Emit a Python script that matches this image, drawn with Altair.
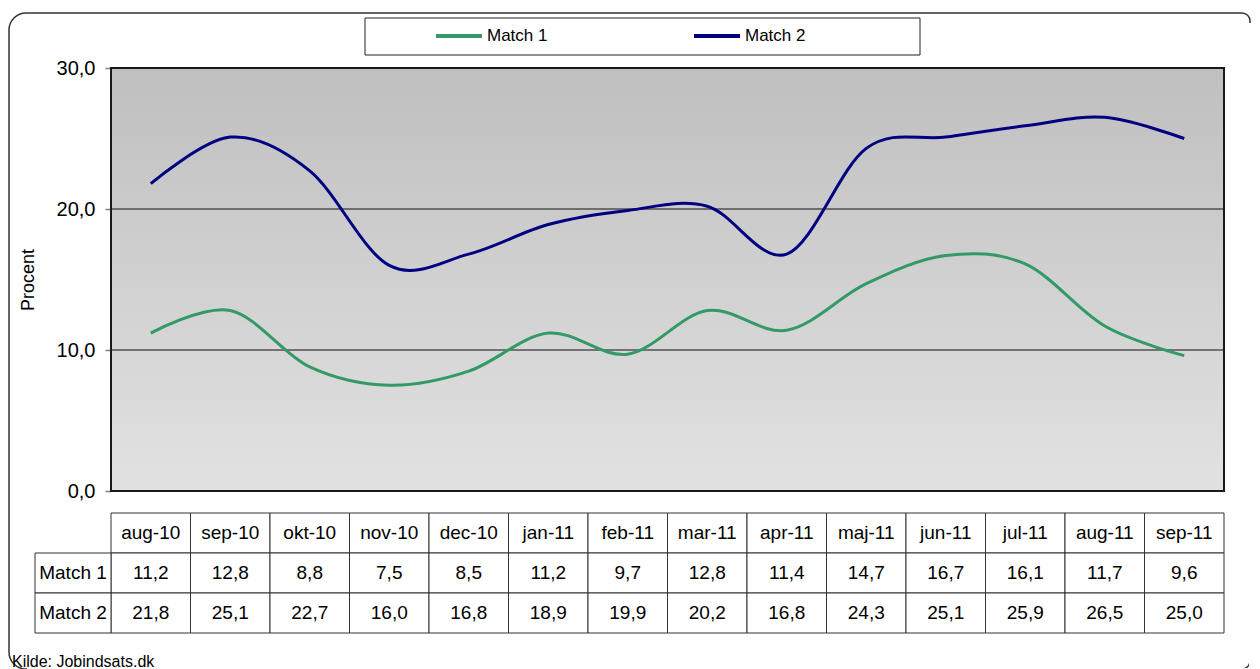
import altair as alt
import pandas as pd

# ---- data ----
months = ["aug-10", "sep-10", "okt-10", "nov-10", "dec-10", "jan-11", "feb-11",
          "mar-11", "apr-11", "maj-11", "jun-11", "jul-11", "aug-11", "sep-11"]
match1 = [11.2, 12.8, 8.8, 7.5, 8.5, 11.2, 9.7, 12.8, 11.4, 14.7, 16.7, 16.1, 11.7, 9.6]
match2 = [21.8, 25.1, 22.7, 16.0, 16.8, 18.9, 19.9, 20.2, 16.8, 24.3, 25.1, 25.9, 26.5, 25.0]
series_names = ["Match 1", "Match 2"]
series_colors = ["#339966", "#000080"]
y_ticks = [0, 10, 20, 30]
grid_values = [10, 20]
y_title = "Procent"
source_note = "Kilde: Jobindsats.dk"

# ---- sizes / styles ----
W, H, TH = 1113, 423, 120
FONT = "Liberation Sans"


def fmt(v):
    return f"{v:.1f}".replace(".", ",")


lines_df = pd.DataFrame({
    "month": months * 2,
    "series": [series_names[0]] * len(months) + [series_names[1]] * len(months),
    "value": match1 + match2,
})

row_keys = ["header", series_names[0], series_names[1]]
table_rows = []
for m, a, b in zip(months, match1, match2):
    table_rows.append({"month": m, "row": "header", "text": m})
    table_rows.append({"month": m, "row": series_names[0], "text": fmt(a)})
    table_rows.append({"month": m, "row": series_names[1], "text": fmt(b)})
table_df = pd.DataFrame(table_rows)
label_df = pd.DataFrame({"row": series_names})

x_pt = alt.X("month:N", sort=months, scale=alt.Scale(type="point", padding=0.5), axis=None)
y_scale = alt.Scale(domain=[0, 30])

gradient = alt.LinearGradient(
    gradient="linear",
    stops=[alt.GradientStop(color="#BFBFBF", offset=0),
           alt.GradientStop(color="#E2E2E2", offset=1)],
    x1=0, x2=0, y1=0, y2=1,
)

one = pd.DataFrame({"k": [0]})

bg = alt.Chart(one).mark_rect(fill=gradient).encode(
    x=alt.value(0), x2=alt.value(W),
    y=alt.Y("datum_top:Q", scale=y_scale), y2="datum_bot:Q",
).transform_calculate(datum_top="30", datum_bot="0")

grid = alt.Chart(pd.DataFrame({"g": grid_values})).mark_rule(color="#111", strokeWidth=1).encode(
    y=alt.Y("g:Q", scale=y_scale,
            axis=alt.Axis(values=y_ticks,
                          labelExpr="replace(format(datum.value,'.1f'),'.',',')",
                          title=y_title, grid=False, domain=False,
                          tickColor="#808080", tickSize=6, tickWidth=1.5,
                          labelFontSize=20, labelFont=FONT, labelColor="black",
                          labelPadding=10, titleFontSize=18, titleFont=FONT,
                          titleFontWeight="normal", titleColor="black",
                          titlePadding=19)),
    x=alt.value(0), x2=alt.value(W),
)

legend_box = alt.Chart(one).mark_rect(fill="white", stroke="#222", strokeWidth=1).encode(
    x=alt.value(254), x2=alt.value(809), y=alt.value(-50), y2=alt.value(-13)
)

lines = alt.Chart(lines_df).mark_line(interpolate="cardinal", strokeWidth=3).encode(
    x=x_pt,
    y=alt.Y("value:Q", scale=y_scale),
    color=alt.Color("series:N",
                    scale=alt.Scale(domain=series_names, range=series_colors),
                    legend=alt.Legend(title=None, orient="none", legendX=323, legendY=-57,
                                      direction="horizontal", columns=2,
                                      symbolType="stroke", symbolSize=2116,
                                      symbolStrokeWidth=4, labelFontSize=17,
                                      labelFont=FONT, labelColor="black",
                                      labelOffset=3, columnPadding=138, padding=0)),
)

border = alt.Chart(one).mark_rect(fillOpacity=0, stroke="#1a1a1a", strokeWidth=2).encode(
    x=alt.value(0), x2=alt.value(W),
    y=alt.Y("t:Q", scale=y_scale), y2="b:Q",
).transform_calculate(t="30", b="0")

top = alt.layer(bg, grid, legend_box, lines, border).properties(
    width=W, height=H, view=alt.ViewBackground(strokeOpacity=0)
)

# ---- data table ----
xb = alt.X("month:N", sort=months, scale=alt.Scale(type="band", paddingInner=0, paddingOuter=0), axis=None)
yb = alt.Y("row:N", sort=row_keys, scale=alt.Scale(domain=row_keys, paddingInner=0, paddingOuter=0), axis=None)

cells = alt.Chart(table_df).mark_rect(fill="white", stroke="#333", strokeWidth=1).encode(x=xb, y=yb)
cell_text = alt.Chart(table_df).mark_text(font=FONT, fontSize=19, color="black").encode(
    x=xb, y=yb, text="text:N")
label_cells = alt.Chart(label_df).mark_rect(fill="white", stroke="#333", strokeWidth=1).encode(
    x=alt.value(-76), x2=alt.value(0), y=yb)
label_text = alt.Chart(label_df).mark_text(font=FONT, fontSize=19, color="black").encode(
    x=alt.value(-38), y=yb, text="row:N")

# outer rounded frame (right and bottom edges run off the picture in the reference)
frame = alt.Chart(one).mark_rect(fillOpacity=0, stroke="#333", strokeWidth=1.5,
                                 cornerRadiusTopLeft=17, cornerRadiusBottomLeft=17,
                                 cornerRadiusTopRight=8, cornerRadiusBottomRight=8).encode(
    x=alt.value(-102), x2=alt.value(1139), y=alt.value(-500), y2=alt.value(156))
hide_right = alt.Chart(one).mark_rule(color="white", strokeWidth=2).encode(
    x=alt.value(1139), y=alt.value(-490), y2=alt.value(156))
hide_bottom = alt.Chart(one).mark_rule(color="white", strokeWidth=2).encode(
    x=alt.value(-84), x2=alt.value(1139), y=alt.value(156))
note = alt.Chart(pd.DataFrame({"t": [source_note]})).mark_text(
    font=FONT, fontSize=16, color="black", align="left", baseline="alphabetic").encode(
    x=alt.value(-99), y=alt.value(154), text="t:N")

table = alt.layer(frame, hide_right, hide_bottom, cells, cell_text, label_cells, label_text, note).properties(
    width=W, height=TH, view=alt.ViewBackground(strokeOpacity=0)
)

chart = alt.vconcat(top, table, spacing=22, bounds="flush").properties(
    padding={"left": 0, "top": 3, "right": 0, "bottom": 0}
).configure(font=FONT).configure_view(strokeOpacity=0)

chart.save("out.html", embed_options={"renderer": "svg", "actions": False})
